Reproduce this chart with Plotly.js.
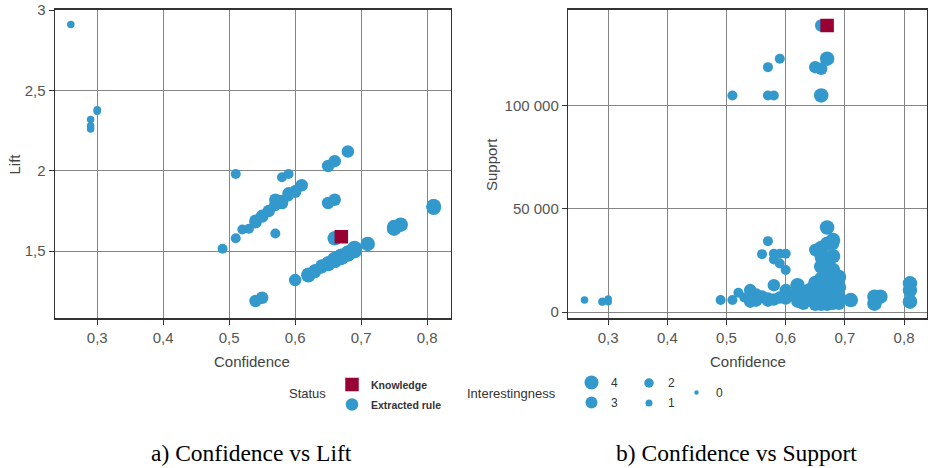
<!DOCTYPE html>
<html>
<head>
<meta charset="utf-8">
<script src="https://cdn.plot.ly/plotly-3.0.1.min.js"></script>
<style>
  html, body { margin: 0; padding: 0; background: #ffffff; }
  #chart { width: 928px; height: 468px; }
</style>
</head>
<body>
<div id="chart"></div>
<script>
// ---------------- DATA ----------------
// Extracted rules (one entry per rule; shared between the two panels)
const ruleConf = [
  0.26, 0.29, 0.29, 0.29, 0.30, 0.30,
  0.49, 0.51, 0.52, 0.53, 0.54, 0.54, 0.55, 0.55, 0.56, 0.56, 0.57, 0.57, 0.57,
  0.58, 0.58, 0.58, 0.58, 0.59, 0.59, 0.59, 0.60, 0.60, 0.60, 0.61,
  0.51, 0.58, 0.59, 0.57, 0.57, 0.65, 0.66, 0.66, 0.66, 0.65, 0.66, 0.68,
  0.54, 0.55, 0.60,
  0.62, 0.62, 0.62, 0.63, 0.63, 0.63, 0.64, 0.64, 0.64,
  0.65, 0.65, 0.65, 0.65, 0.66, 0.66, 0.66, 0.66, 0.66, 0.66, 0.66,
  0.67, 0.67, 0.67, 0.67, 0.67, 0.67, 0.67, 0.67,
  0.68, 0.68, 0.68, 0.68, 0.68, 0.68, 0.69, 0.69, 0.69, 0.69,
  0.71, 0.75, 0.75, 0.76, 0.81, 0.81, 0.81
];
const ruleLift = [
  2.91, 2.32, 2.28, 2.26, 2.38, 2.37,
  1.515, 1.58, 1.635, 1.64, 1.68, 1.69, 1.715, 1.72, 1.75, 1.755, 1.78, 1.79, 1.82,
  1.80, 1.81, 1.82, 1.80, 1.84, 1.85, 1.86, 1.87, 1.88, 1.87, 1.91,
  1.98, 1.96, 1.98, 1.61, 1.82, 2.03, 2.06, 1.58, 1.58, 1.80, 1.82, 2.12,
  1.19, 1.21, 1.32,
  1.35, 1.35, 1.36, 1.37, 1.38, 1.38, 1.40, 1.40, 1.41,
  1.42, 1.43, 1.42, 1.43, 1.44, 1.45, 1.45, 1.44, 1.45, 1.44, 1.45,
  1.46, 1.47, 1.46, 1.47, 1.46, 1.47, 1.46, 1.47,
  1.48, 1.49, 1.48, 1.49, 1.48, 1.49, 1.50, 1.51, 1.52, 1.50,
  1.545, 1.64, 1.65, 1.665, 1.77, 1.78, 1.78
];
const ruleSupport = [
  5800, 5200, 4800, 5000, 6300, 5000,
  5800, 5800, 9300, 7000, 10600, 6500, 8500, 5500, 7500, 28000, 34300, 6500, 5500,
  13000, 28200, 25400, 6000, 28200, 23500, 7000, 28200, 20300, 10600, 8000,
  104800, 104800, 122600, 118500, 104800, 118500, 117700, 104800, 138650, 30000, 26000, 33000,
  5000, 6000, 6500,
  13000, 5000, 9000, 10000, 4000, 7000, 11000, 5500, 8000,
  14000, 6000, 9500, 3500, 16000, 22000, 28000, 31000, 10000, 5000, 3500,
  40900, 33000, 25000, 18000, 12000, 6000, 3500, 122600,
  34800, 27000, 20300, 15000, 9000, 4000, 17000, 12000, 7000, 4000,
  5800, 4000, 7400, 7400, 13900, 10600, 5000
];
const ruleInterest = [
  1, 1, 1, 1, 1, 1,
  2, 2, 2, 2, 3, 3, 3, 3, 3, 2, 2, 3, 3,
  3, 2, 2, 3, 2, 2, 3, 2, 2, 3, 3,
  2, 2, 2, 2, 2, 3, 3, 4, 3, 3, 3, 3,
  3, 3, 3,
  4, 3, 3, 3, 3, 3, 3, 3, 3,
  4, 3, 3, 3, 4, 4, 4, 4, 3, 3, 3,
  4, 4, 4, 4, 4, 3, 3, 4,
  4, 4, 4, 4, 4, 3, 4, 4, 4, 3,
  4, 4, 4, 4, 4, 4, 4
];
// Knowledge (prior) rule
const knowConf = [0.67];
const knowLift = [1.59];
const knowSupport = [138650];

// Tick labels
const confTicks = [0.3, 0.4, 0.5, 0.6, 0.7, 0.8];
const confTickText = ['0,3', '0,4', '0,5', '0,6', '0,7', '0,8'];
const liftTicks = [1.5, 2, 2.5, 3];
const liftTickText = ['1,5', '2', '2,5', '3'];
const supportTicks = [0, 50000, 100000];
const supportTickText = ['0', '50 000', '100 000'];

// Legend entries
const statusLabels = ['Knowledge', 'Extracted rule'];
const interestLevels = [4, 3, 2, 1, 0];

// ---------------- STYLE ----------------
const W = 928, H = 468;
const px = x => x / W;
const py = y => 1 - y / H;
const BLUE = '#3399cc';
const RED = '#990033';
const sizeByInterest = [5, 7.5, 10, 12.5, 14.5];
const KNOW_SIZE = 13.5;
const SANS = 'Liberation Sans, Arial, sans-serif';
const SERIF = 'Liberation Serif, Times New Roman, serif';

function axisStyle(extra) {
  return Object.assign({
    showline: true, mirror: true, linecolor: '#333', linewidth: 1.5,
    ticks: 'outside', ticklen: 5, tickcolor: '#333', tickwidth: 1,
    showgrid: true, gridcolor: '#858585', gridwidth: 1,
    zeroline: false, fixedrange: true,
    tickfont: { family: SANS, size: 15, color: '#555' }
  }, extra);
}

const ruleSizes = ruleInterest.map(i => sizeByInterest[i]);

const traces = [
  { type: 'scatter', mode: 'markers', x: ruleConf, y: ruleLift, xaxis: 'x', yaxis: 'y',
    marker: { color: BLUE, size: ruleSizes, opacity: 1, line: { width: 0 } }, hoverinfo: 'skip' },
  { type: 'scatter', mode: 'markers', x: knowConf, y: knowLift, xaxis: 'x', yaxis: 'y',
    marker: { color: RED, size: KNOW_SIZE, opacity: 1, symbol: 'square', line: { width: 0 } }, hoverinfo: 'skip' },
  { type: 'scatter', mode: 'markers', x: ruleConf, y: ruleSupport, xaxis: 'x2', yaxis: 'y2',
    marker: { color: BLUE, size: ruleSizes, opacity: 1, line: { width: 0 } }, hoverinfo: 'skip' },
  { type: 'scatter', mode: 'markers', x: knowConf, y: knowSupport, xaxis: 'x2', yaxis: 'y2',
    marker: { color: RED, size: KNOW_SIZE, opacity: 1, symbol: 'square', line: { width: 0 } }, hoverinfo: 'skip' }
];

// ---------------- LEGEND (custom, below the panels) ----------------
const shapes = [];
const annotations = [];
function text(t, x, y, opts) {
  annotations.push(Object.assign({
    text: t, x: px(x), y: py(y), xref: 'paper', yref: 'paper',
    xanchor: 'left', yanchor: 'middle', showarrow: false,
    font: { family: SANS, size: 13, color: '#333' }
  }, opts || {}));
}
function circle(cx, cy, d, color) {
  shapes.push({ type: 'circle', xref: 'paper', yref: 'paper',
    x0: px(cx - d / 2), x1: px(cx + d / 2), y0: py(cy + d / 2), y1: py(cy - d / 2),
    fillcolor: color, line: { width: 0 } });
}
// Status
text('Status', 287, 393);
shapes.push({ type: 'rect', xref: 'paper', yref: 'paper',
  x0: px(352 - KNOW_SIZE / 2), x1: px(352 + KNOW_SIZE / 2),
  y0: py(384.5 + KNOW_SIZE / 2), y1: py(384.5 - KNOW_SIZE / 2),
  fillcolor: RED, line: { width: 0 } });
circle(352, 404.5, 12.5, BLUE);
text(statusLabels[0], 369, 385, { font: { family: SANS, size: 10.5, color: '#333', weight: 'bold' } });
text(statusLabels[1], 369, 405, { font: { family: SANS, size: 10.5, color: '#333', weight: 'bold' } });
// Interestingness
text('Interestingness', 465, 393);
const legPos = { 4: [591.5, 382.5], 3: [591.5, 402.5], 2: [649, 383], 1: [649, 403], 0: [696.5, 392.5] };
interestLevels.forEach(l => {
  const p = legPos[l];
  circle(p[0], p[1], sizeByInterest[l] - 0.5, BLUE);
  text(String(l), p[0] + 17, p[1], { font: { family: SANS, size: 12, color: '#333' } });
});

// Axis titles
const titleFont = { family: SANS, size: 15, color: '#444' };
text('Confidence', 252, 361, { xanchor: 'center', font: titleFont });
text('Confidence', 747.5, 361, { xanchor: 'center', font: titleFont });
text('Lift', 13.5, 164, { xanchor: 'center', textangle: -90, font: titleFont });
text('Support', 491, 164, { xanchor: 'center', textangle: -90, font: titleFont });

// Captions
text('a) Confidence vs Lift', 251, 453, { xanchor: 'center', font: { family: SERIF, size: 23.5, color: '#000' } });
text('b) Confidence vs Support', 736.5, 453, { xanchor: 'center', font: { family: SERIF, size: 23.5, color: '#000' } });

const layout = {
  width: W, height: H,
  margin: { l: 0, r: 0, t: 0, b: 0, pad: 0 },
  paper_bgcolor: '#ffffff', plot_bgcolor: '#ffffff',
  showlegend: false,
  font: { family: SANS, color: '#444' },
  xaxis: axisStyle({ domain: [px(55), px(450.5)], range: [0.236, 0.8355],
    tickvals: confTicks, ticktext: confTickText, anchor: 'y' }),
  yaxis: axisStyle({ domain: [py(318), py(9.5)], range: [1.084, 3.004],
    tickvals: liftTicks, ticktext: liftTickText, anchor: 'x' }),
  xaxis2: axisStyle({ domain: [px(568.3), px(927)], range: [0.2326, 0.8388],
    tickvals: confTicks, ticktext: confTickText, anchor: 'y2' }),
  yaxis2: axisStyle({ domain: [py(318), py(9.5)], range: [-2900, 146400],
    tickvals: supportTicks, ticktext: supportTickText, anchor: 'x2' }),
  shapes: shapes,
  annotations: annotations
};

Plotly.newPlot('chart', traces, layout, { staticPlot: true, displayModeBar: false });
</script>
</body>
</html>
